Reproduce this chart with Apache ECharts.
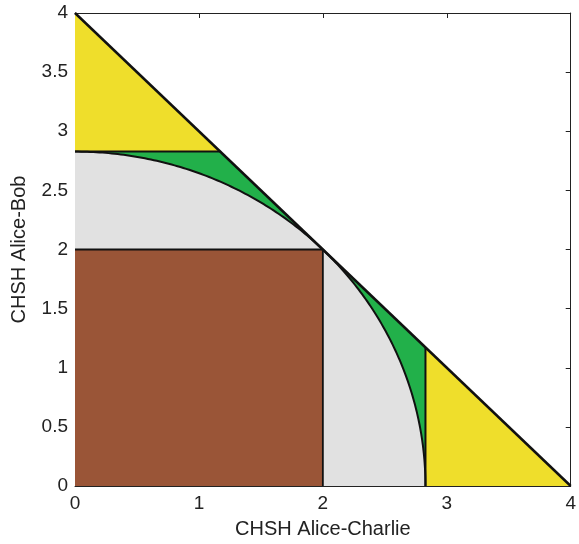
<!DOCTYPE html>
<html>
<head>
<meta charset="utf-8">
<script src="https://cdn.jsdelivr.net/npm/echarts@6/dist/echarts.min.js"></script>
<style>html,body{margin:0;padding:0;background:#fff}#c{width:579px;height:544px}</style>
</head>
<body>
<div id="c"></div>
<script>
// Regions of the CHSH Alice-Bob / Alice-Charlie plane.
const xTicks = [0, 1, 2, 3, 4];
const yTicks = [0, 0.5, 1, 1.5, 2, 2.5, 3, 3.5, 4];
const quantumRadius = 2.828;            // quarter disk x^2 + y^2 <= 8
const greenZone = [[0, 0], [0, 2.828], [1.172, 2.828], [2.828, 1.172], [2.828, 0]];
const yellowTop = [[0, 4], [0, 2.828], [1.172, 2.828]];
const yellowRight = [[2.828, 0], [4, 0], [2.828, 1.172]];
const brownSquare = [[0, 0], [2, 0], [2, 2], [0, 2]];
const diagonal = [[0, 4], [4, 0]];
const hLine = [[0, 2.828], [1.172, 2.828]];
const vLine = [[2.828, 0], [2.828, 1.172]];
const squareEdges = [[[0, 2], [2, 2]], [[2, 2], [2, 0]]];

const FONT = 'Liberation Sans, Arial, sans-serif';
const COLORS = { green: '#22B04A', gray: '#E1E1E1', brown: '#9A5537', yellow: '#EFDE2B' };

// polygon from a named vertex list, mapped through the axes
const polySeries = (pts, fill, z) => ({
  type: 'custom', z, silent: true, clip: true, data: [0],
  renderItem: (params, api) => ({
    type: 'polygon',
    shape: { points: pts.map((p) => api.coord(p)) },
    style: { fill, stroke: null },
  }),
});
const lineSeries = (pts, width, z) => ({
  type: 'custom', z, silent: true, clip: false, data: [0],
  renderItem: (params, api) => ({
    type: 'polyline',
    shape: { points: pts.map((p) => api.coord(p)) },
    style: { stroke: '#111', lineWidth: width, fill: null, lineJoin: 'round' },
  }),
});
// quarter disk (and its outline) of the given radius
const arcPoints = (api, r, closed) => {
  const pts = [];
  if (closed) pts.push(api.coord([0, 0]));
  for (let i = 0; i <= 180; i++) {
    const t = (Math.PI / 2) * i / 180;
    pts.push(api.coord([r * Math.cos(t), r * Math.sin(t)]));
  }
  return pts;
};

const axisStyle = { onZero: false, lineStyle: { color: '#222', width: 1 } };
const tickStyle = { show: true, inside: true, length: 5, lineStyle: { color: '#222' } };
const labelStyle = { color: '#222', fontSize: 19, fontFamily: FONT };
const nameStyle = { color: '#222', fontSize: 20, fontFamily: FONT };

const option = {
  animation: false,
  grid: { left: 75, right: 7, top: 13, bottom: 56, containLabel: false },
  xAxis: [
    { type: 'value', min: 0, max: 4, interval: 1, position: 'bottom',
      name: 'CHSH Alice-Charlie', nameLocation: 'middle', nameGap: 33, nameTextStyle: nameStyle,
      axisLine: axisStyle, axisTick: tickStyle, splitLine: { show: false },
      axisLabel: { ...labelStyle, margin: 8 } },
    { type: 'value', min: 0, max: 4, interval: 1, position: 'top',
      axisLine: axisStyle, axisTick: tickStyle, splitLine: { show: false },
      axisLabel: { show: false } },
  ],
  yAxis: [
    { type: 'value', min: 0, max: 4, interval: 0.5, position: 'left',
      name: 'CHSH Alice-Bob', nameLocation: 'middle', nameGap: 46, nameTextStyle: nameStyle,
      axisLine: axisStyle, axisTick: tickStyle, splitLine: { show: false },
      axisLabel: { ...labelStyle, margin: 7, formatter: (v) => String(v) } },
    { type: 'value', min: 0, max: 4, interval: 0.5, position: 'right',
      axisLine: axisStyle, axisTick: tickStyle, splitLine: { show: false },
      axisLabel: { show: false } },
  ],
  series: [
    polySeries(greenZone, COLORS.green, 1),
    { type: 'custom', z: 2, silent: true, clip: true, data: [0],
      renderItem: (params, api) => ({
        type: 'polygon', shape: { points: arcPoints(api, quantumRadius, true) },
        style: { fill: COLORS.gray, stroke: null } }) },
    polySeries(brownSquare, COLORS.brown, 3),
    polySeries(yellowTop, COLORS.yellow, 3),
    polySeries(yellowRight, COLORS.yellow, 3),
    { type: 'custom', z: 4, silent: true, clip: true, data: [0],
      renderItem: (params, api) => ({
        type: 'polyline', shape: { points: arcPoints(api, quantumRadius, false) },
        style: { stroke: '#111', lineWidth: 2, fill: null } }) },
    lineSeries(squareEdges[0], 1.8, 4),
    lineSeries(squareEdges[1], 1.8, 4),
    lineSeries(hLine, 2, 4),
    lineSeries(vLine, 2, 4),
    lineSeries(diagonal, 2.5, 5),
  ],
};

const chart = echarts.init(document.getElementById('c'), null, { renderer: 'canvas' });
chart.setOption(option);
</script>
</body>
</html>
